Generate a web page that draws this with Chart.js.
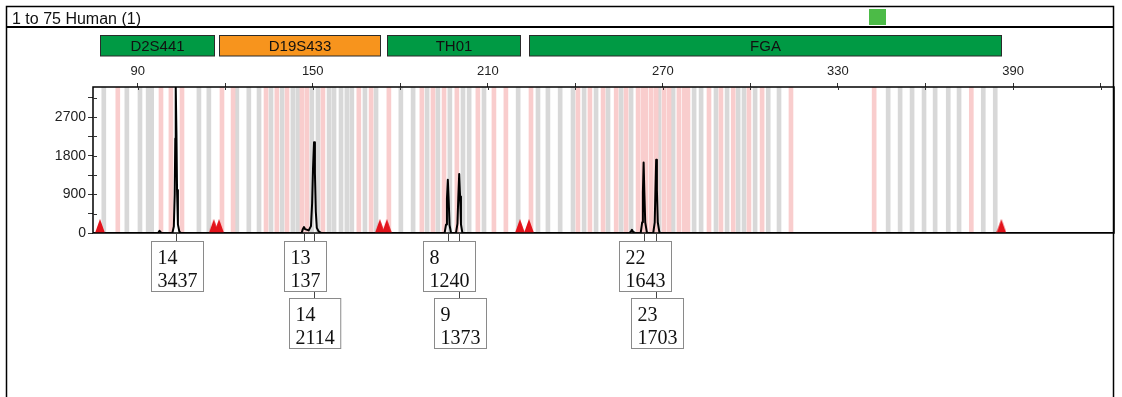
<!DOCTYPE html>
<html>
<head>
<meta charset="utf-8">
<script src="https://cdn.jsdelivr.net/npm/chart.js@4.4.1/dist/chart.umd.min.js"></script>
<style>
  html, body { margin: 0; padding: 0; background: #fff; }
  canvas { display: block; }
</style>
</head>
<body>
<canvas id="epg" width="1122" height="397"></canvas>
<script>
// ===== DATA =====
const sampleTitle = "1 to 75 Human (1)";

// loci (bp ranges)
const markerNames = ["D2S441", "D19S433", "TH01", "FGA"];
const markerStart = [77.1, 117.9, 175.4, 224.1];
const markerEnd = [116.1, 173.0, 221.0, 386.0];

// allele bins (bp)
const grayBins = [78.4, 86.3, 90.8, 93.6, 94.8, 111.0, 114.4, 124.0, 128.1, 131.6, 135.7, 139.5, 143.2, 144.9,
  149.7, 151.8, 155.6, 157.3, 159.7, 161.7, 163.4, 167.9, 171.7, 180.2, 184.4, 189.2, 192.9, 197.0, 201.5,
  203.6, 208.7, 220.4, 227.2, 230.6, 234.8, 239.2, 243.0, 247.1, 251.2, 255.7, 259.1, 268.7, 273.5, 280.7,
  283.1, 288.2, 292.0, 295.8, 297.8, 301.6, 306.1, 309.8, 347.2, 351.3, 355.4, 359.5, 363.3, 367.8, 371.5,
  379.8, 383.9];
const pinkBins = [83.2, 98.0, 101.4, 105.2, 118.9, 122.7, 134.0, 137.7, 141.2, 146.3, 148.0, 153.5, 165.8,
  170.0, 176.1, 187.4, 191.2, 195.0, 199.4, 206.6, 212.1, 216.2, 224.8, 240.9, 245.0, 249.5, 254.0, 257.4,
  261.5, 263.2, 264.2, 266.0, 267.7, 270.4, 272.1, 275.5, 277.3, 278.6, 285.8, 289.9, 294.1, 299.5, 304.0,
  313.9, 342.4, 375.7];

// trace [bp, rfu]
const trace = [
  [74.7, 0], [97.0, 0], [97.5, 50], [98.1, 0],
  [101.9, 0], [102.4, 150], [102.7, 900], [102.9, 2200], [103.05, 3437], [103.3, 2300], [103.5, 1000],
  [103.8, 200], [104.3, 30], [104.9, 0],
  [146.2, 0], [146.6, 90], [147.0, 137], [147.4, 90], [148.6, 60], [149.4, 160], [149.8, 700], [150.1, 1500],
  [150.45, 2114], [150.75, 1400], [151.05, 500], [151.4, 120], [152.0, 40], [153.0, 0],
  [195.2, 0], [195.7, 200], [196.0, 800], [196.3, 1240], [196.6, 750], [196.9, 180], [197.4, 0],
  [199.1, 0], [199.6, 220], [199.9, 850], [200.2, 1373], [200.5, 850], [200.8, 200], [201.3, 0],
  [258.5, 0], [259.0, 30], [259.4, 75], [259.8, 25], [260.5, 0],
  [262.4, 0], [262.9, 250], [263.15, 950], [263.4, 1643], [263.65, 950], [263.95, 250], [264.5, 20], [265.0, 0],
  [266.7, 0], [267.2, 250], [267.45, 1000], [267.7, 1703], [267.95, 1000], [268.25, 250], [268.8, 20], [269.3, 0],
  [424.6, 0]
];

// called alleles
const alleleMarker = ["D2S441", "D19S433", "D19S433", "TH01", "TH01", "FGA", "FGA"];
const alleleNames = ["14", "13", "14", "8", "9", "22", "23"];
const alleleHeights = [3437, 137, 2114, 1240, 1373, 1643, 1703];
const allelePos = [103.05, 147.0, 150.45, 196.3, 200.2, 263.4, 267.7];

// axes
const X_MIN = 74.7, X_MAX = 424.6;
const xTicks = [90, 120, 150, 180, 210, 240, 270, 300, 330, 360, 390, 420];
const xLabels = [90, 150, 210, 270, 330, 390];
const Y_MIN = 0, Y_MAX = 3400;
const yTicks = [0, 450, 900, 1350, 1800, 2250, 2700, 3150];
const yLabels = [0, 900, 1800, 2700];

// ===== STYLE =====
const markerFill = ["#009a44", "#f7941d", "#009a44", "#009a44"];
const FONT = "'Liberation Sans', Arial, sans-serif";
const SERIF = "'Liberation Serif', 'Times New Roman', serif";

// red triangle marker at locus edges
const tri = document.createElement("canvas");
tri.width = 10; tri.height = 28;
(function () {
  const c = tri.getContext("2d");
  c.fillStyle = "#e3131b";
  c.beginPath();
  c.moveTo(5, 0); c.lineTo(10, 14); c.lineTo(0, 14); c.closePath();
  c.fill();
})();

const edgePoints = [];
markerStart.forEach((s, i) => {
  edgePoints.push({ x: s, y: 0 });
  edgePoints.push({ x: markerEnd[i], y: 0 });
});

// ===== PLUGIN: header, loci bars, frame, labels =====
const epgPlugin = {
  id: "epg",
  beforeDraw(chart) {
    const ctx = chart.ctx;
    const x = chart.scales.x;
    ctx.save();
    // panel
    ctx.strokeStyle = "#000";
    ctx.lineWidth = 1.5;
    ctx.beginPath();
    ctx.moveTo(6.5, 400); ctx.lineTo(6.5, 6.5); ctx.lineTo(1113.5, 6.5); ctx.lineTo(1113.5, 400);
    ctx.stroke();
    ctx.lineWidth = 2;
    ctx.beginPath();
    ctx.moveTo(6, 27); ctx.lineTo(1114, 27);
    ctx.stroke();
    ctx.fillStyle = "#111";
    ctx.font = "16px " + FONT;
    ctx.textAlign = "left";
    ctx.textBaseline = "alphabetic";
    ctx.fillText(sampleTitle, 12, 24);
    ctx.fillStyle = "#4cbb47";
    ctx.fillRect(869, 9, 17, 16);

    // loci
    ctx.font = "15px " + FONT;
    ctx.textAlign = "center";
    ctx.textBaseline = "middle";
    markerNames.forEach((name, i) => {
      const x0 = Math.round(x.getPixelForValue(markerStart[i])) + 0.5;
      const x1 = Math.round(x.getPixelForValue(markerEnd[i])) + 0.5;
      ctx.fillStyle = markerFill[i];
      ctx.fillRect(x0, 35.5, x1 - x0, 20.5);
      ctx.strokeStyle = "#2b2b2b";
      ctx.lineWidth = 1;
      ctx.strokeRect(x0, 35.5, x1 - x0, 20.5);
      ctx.fillStyle = "#111";
      ctx.fillText(name, (x0 + x1) / 2, 46.5);
    });
    ctx.restore();
  },
  afterDatasetsDraw(chart) {
    const ctx = chart.ctx;
    const a = chart.chartArea;
    const x = chart.scales.x, y = chart.scales.y;
    ctx.save();
    ctx.strokeStyle = "#000";
    ctx.lineWidth = 1.5;
    ctx.strokeRect(a.left, a.top, a.right - a.left, a.bottom - a.top);
    // inner tick parts
    ctx.lineWidth = 1;
    ctx.strokeStyle = "#333";
    ctx.beginPath();
    xTicks.forEach(v => {
      const px = Math.round(x.getPixelForValue(v)) + 0.5;
      ctx.moveTo(px, a.top); ctx.lineTo(px, a.top + 3);
    });
    yTicks.forEach(v => {
      if (v === 0) return;
      const py = Math.round(y.getPixelForValue(v)) + 0.5;
      ctx.moveTo(a.left, py); ctx.lineTo(a.left + 4, py);
    });
    ctx.stroke();
    ctx.restore();
  },
  afterDraw(chart) {
    const ctx = chart.ctx;
    const a = chart.chartArea;
    const x = chart.scales.x;
    ctx.save();
    ctx.font = "20px " + SERIF;
    const boxes = [];
    const rowCount = {};
    alleleNames.forEach((name, i) => {
      const m = alleleMarker[i];
      const row = rowCount[m] || 0;
      rowCount[m] = row + 1;
      const px = Math.round(x.getPixelForValue(allelePos[i])) + 0.5;
      const txt = String(alleleHeights[i]);
      const w = Math.max(ctx.measureText(txt).width, ctx.measureText(name).width) + 12;
      const top = a.bottom + 8 + row * 57;
      boxes.push({ px, top, w, name, txt });
    });
    // connectors
    ctx.strokeStyle = "#444";
    ctx.lineWidth = 1;
    ctx.beginPath();
    boxes.forEach(b => { ctx.moveTo(b.px, a.bottom); ctx.lineTo(b.px, b.top); });
    ctx.stroke();
    // boxes
    boxes.forEach(b => {
      const left = Math.round(b.px - b.w / 2) + 0.5;
      ctx.fillStyle = "#fff";
      ctx.fillRect(left, b.top + 0.5, b.w, 50);
      ctx.strokeStyle = "#8a8a8a";
      ctx.strokeRect(left, b.top + 0.5, b.w, 50);
      ctx.fillStyle = "#111";
      ctx.textAlign = "left";
      ctx.textBaseline = "alphabetic";
      ctx.fillText(b.name, left + 6, b.top + 23);
      ctx.fillText(b.txt, left + 6, b.top + 46);
    });
    ctx.restore();
  }
};

// ===== CHART =====
new Chart(document.getElementById("epg"), {
  type: "line",
  data: {
    datasets: [
      {
        type: "line",
        data: trace.map(p => ({ x: p[0], y: p[1] })),
        borderColor: "#000",
        borderWidth: 2,
        borderJoinStyle: "round",
        pointRadius: 0,
        tension: 0,
        order: 1
      },
      {
        type: "line",
        data: edgePoints,
        showLine: false,
        pointStyle: tri,
        pointRadius: 7,
        order: 0
      },
      {
        type: "bar",
        data: pinkBins.map(v => ({ x: v, y: Y_MAX })),
        backgroundColor: "#f9cdcd",
        barThickness: 4,
        grouped: false,
        order: 3
      },
      {
        type: "bar",
        data: grayBins.map(v => ({ x: v, y: Y_MAX })),
        backgroundColor: "#d8d8d8",
        barThickness: 4,
        grouped: false,
        order: 3
      }
    ]
  },
  options: {
    responsive: false,
    animation: false,
    devicePixelRatio: 1,
    layout: { padding: { left: 0, top: 0, right: 7, bottom: 164 } },
    plugins: { legend: { display: false }, tooltip: { enabled: false } },
    scales: {
      x: {
        type: "linear",
        position: "top",
        min: X_MIN,
        max: X_MAX,
        offset: false,
        border: { display: false },
        grid: { drawOnChartArea: false, offset: false, tickLength: 4, color: "#333" },
        ticks: {
          autoSkip: false,
          maxRotation: 0,
          padding: 4,
          color: "#222",
          font: { family: FONT, size: 13 },
          callback: v => (xLabels.includes(v) ? String(v) : "")
        },
        afterBuildTicks(s) { s.ticks = xTicks.map(v => ({ value: v })); },
        afterFit(s) { s.height = 87; }
      },
      y: {
        type: "linear",
        min: Y_MIN,
        max: Y_MAX,
        border: { display: false },
        grid: { drawOnChartArea: false, tickLength: 5, color: "#333" },
        ticks: {
          autoSkip: false,
          padding: 2,
          color: "#222",
          font: { family: FONT, size: 14 },
          callback: v => (yLabels.includes(v) ? String(v) : "")
        },
        afterBuildTicks(s) { s.ticks = yTicks.map(v => ({ value: v })); },
        afterFit(s) { s.width = 93; }
      }
    }
  },
  plugins: [epgPlugin]
});
</script>
</body>
</html>
